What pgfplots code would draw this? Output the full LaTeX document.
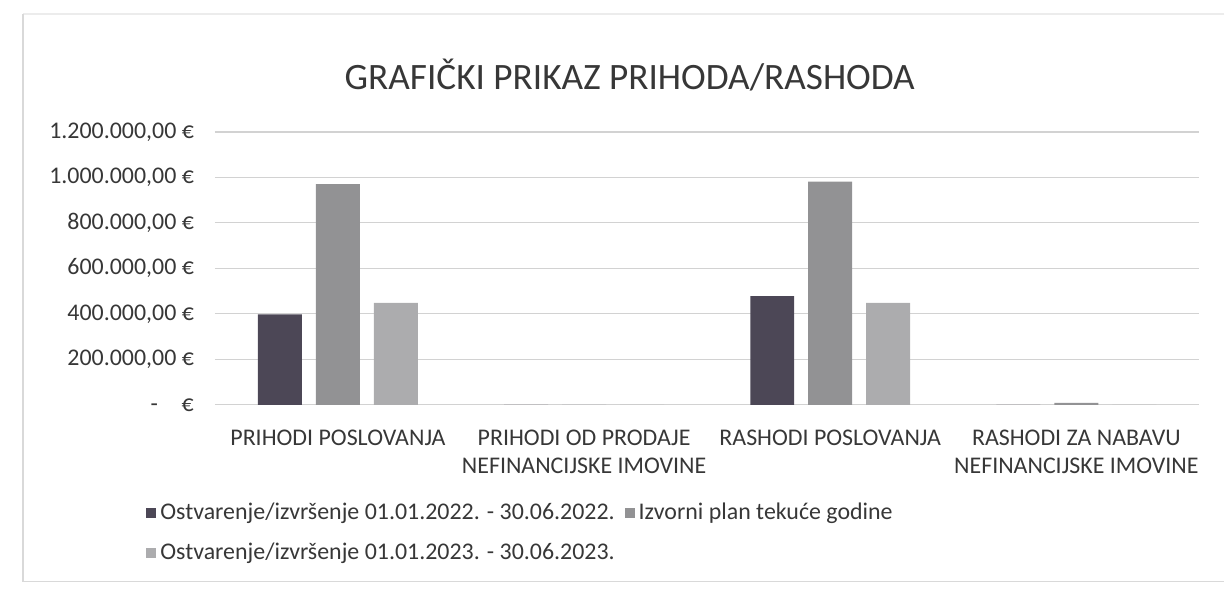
\documentclass[border=0pt]{standalone}
\usepackage{fontspec}
\setmainfont{Carlito}
\usepackage{pgfplots}
\pgfplotsset{compat=1.18}
\definecolor{cA}{RGB}{76,71,86}
\definecolor{cB}{RGB}{146,146,148}
\definecolor{cC}{RGB}{172,172,174}
\definecolor{gridc}{RGB}{210,210,210}
\definecolor{txt}{RGB}{55,55,55}
\begin{document}
\begin{tikzpicture}
\path (0,0) rectangle (612.5bp,302bp);
\draw[gray!15, line width=0.6bp] (612.5bp,295bp) -- (11.5bp,295bp);
\draw[gray!30, line width=0.6bp] (11.5bp,295bp) -- (11.5bp,11bp) -- (612.5bp,11bp);
\begin{axis}[
  at={(107.5bp,99.5bp)}, anchor=south west,
  width=492.5bp, height=136.5bp, scale only axis,
  xmin=-0.5, xmax=3.5, ymin=0, ymax=1200000,
  axis x line=bottom, axis y line=left,
  axis line style={draw=none},
  ybar=7bp, bar width=22bp,
  xtick={0,1,2,3},
  xticklabels={{PRIHODI POSLOVANJA},{PRIHODI OD PRODAJE\\NEFINANCIJSKE IMOVINE},{RASHODI POSLOVANJA},{RASHODI ZA NABAVU\\NEFINANCIJSKE IMOVINE}},
  xticklabel style={align=center, font=\fontsize{12}{14}\selectfont, text=txt, yshift=-9bp},
  tick style={draw=none},
  major tick length=0pt,
  ytick={0,200000,400000,600000,800000,1000000,1200000},
  yticklabels={{-\quad €},{200.000,00 €},{400.000,00 €},{600.000,00 €},{800.000,00 €},{1.000.000,00 €},{1.200.000,00 €}},
  yticklabel style={font=\fontsize{12}{14}\selectfont, text=txt, xshift=-7bp},
  scaled y ticks=false,
  ymajorgrids, xmajorgrids=false,
  grid style={draw=gridc, line width=0.6bp},
  legend columns=2,
  legend style={at={(-0.076,-0.33)}, anchor=north west, draw=none, fill=none,
    font=\fontsize{12}{14}\selectfont, text=txt, row sep=6bp,
    /tikz/every even column/.append style={column sep=3bp}},
  legend cell align=left,
  legend image code/.code={\fill[#1] (0bp,-2.5bp) rectangle (5bp,2.5bp);},
]
\addplot[fill=cA, draw=none] coordinates {(0,398000) (1,0) (2,478000) (3,0)};
\addplot[fill=cB, draw=none] coordinates {(0,970000) (1,0) (2,982000) (3,8000)};
\addplot[fill=cC, draw=none] coordinates {(0,448000) (1,0) (2,448000) (3,0)};
\legend{Ostvarenje/izvršenje 01.01.2022. - 30.06.2022.,Izvorni plan tekuće godine,Ostvarenje/izvršenje 01.01.2023. - 30.06.2023.}
\end{axis}
\node[text=txt, font=\fontsize{18.7}{22}\selectfont] at (315bp,264.5bp) {GRAFIČKI PRIKAZ PRIHODA/RASHODA};
\end{tikzpicture}
\end{document}
